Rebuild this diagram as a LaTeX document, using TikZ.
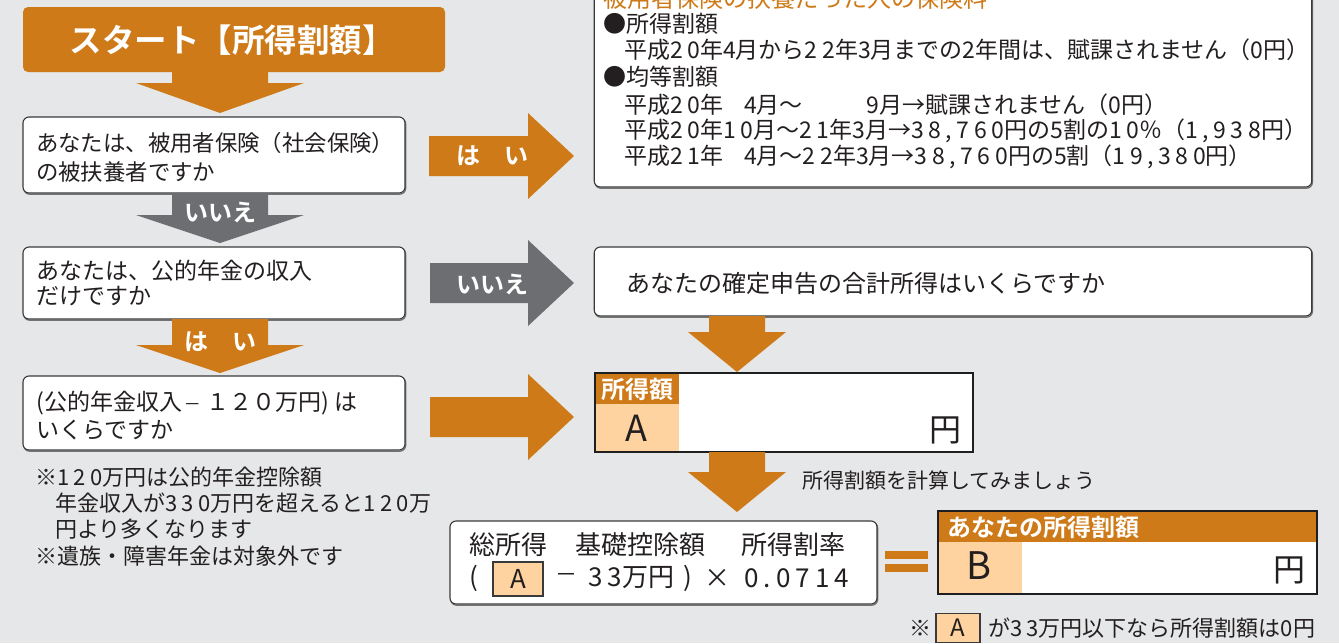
\documentclass[tikz,border=0pt]{standalone}
\usepackage{fontspec}
\setmainfont{Noto Sans CJK JP}[BoldFont={Noto Sans CJK JP Bold}]
\newcommand\nm[1]{{\addfontfeature{LetterSpace=20}#1}}
\definecolor{bg}{HTML}{E6E7E8}
\definecolor{org}{HTML}{CE7A18}
\definecolor{peach}{HTML}{FFD39F}
\definecolor{gry}{HTML}{6D6E71}
\definecolor{bord}{HTML}{3A3A3A}
\definecolor{txt}{HTML}{231F20}
% down block arrow: colour, cx, ytop, yneck, ytip, shaft half, head half
\newcommand\DArr[7]{\fill[#1] (#2-#6,#3) -- (#2+#6,#3) -- (#2+#6,#4) -- (#2+#7,#4) -- (#2,#5) -- (#2-#7,#4) -- (#2-#6,#4) -- cycle;}
% right block arrow: colour, cy, xleft, xneck, xtip, shaft half, head half
\newcommand\RArr[7]{\fill[#1] (#3,#2-#6) -- (#3,#2+#6) -- (#4,#2+#6) -- (#4,#2+#7) -- (#5,#2) -- (#4,#2-#7) -- (#4,#2-#6) -- cycle;}
\begin{document}
\begin{tikzpicture}[x=1pt,y=-1pt,
  every node/.style={inner sep=0pt, outer sep=0pt, text=txt},
  t21/.style={anchor=west, font={\fontsize{21}{25}\selectfont}},
  t22/.style={anchor=west, font={\fontsize{22}{26}\selectfont}},
  t23/.style={anchor=west, font={\fontsize{23}{27}\selectfont}},
  t24/.style={anchor=west, font={\fontsize{24}{28}\selectfont}},
  t26/.style={font={\fontsize{26}{30}\selectfont}},
  wb/.style={text=white, font={\bfseries\fontsize{24}{28}\selectfont}},
  qbox/.style={draw=bord, line width=1.1pt, fill=white, rounded corners=6pt,
    preaction={draw=black!55, line width=1.3pt, transform canvas={xshift=0.7pt, yshift=-1.2pt}}},
  rbox/.style={fill=white},
  rborder/.style={draw=black!88, line width=2.4pt},
  abox/.style={draw=bord, line width=1.3pt, fill=peach},
]
\useasboundingbox (0,0) rectangle (1339,643);
\fill[bg] (0,0) rectangle (1339,643);

% ---- start
\node[fill=org, rounded corners=5pt, minimum width=422, minimum height=65] (start) at (234,39.5) {};
\node[text=white, font={\bfseries\fontsize{32.5}{36}\selectfont}] (startT) at (232,40) {スタート【所得割額】};

% ---- left question boxes
\node[qbox, minimum width=382, minimum height=76] (q1) at (214,155) {};
\node[anchor=west, font={\fontsize{22.4}{26}\selectfont}] (q1a) at (36,143) {あなたは、被用者保険（社会保険）};
\node[anchor=west, font={\fontsize{22.4}{26}\selectfont}] (q1b) at (36,172) {の被扶養者ですか};

\node[qbox, minimum width=382, minimum height=72] (q2) at (214,283) {};
\node[t23] (q2a) at (36,271) {あなたは、公的年金の収入};
\node[t23] (q2b) at (36,296) {だけですか};

\node[qbox, minimum width=382, minimum height=74] (q3) at (214,413) {};
\node[t23] (q3a) at (36,403) {(\hspace{1pt}公的年金収入\hspace{1pt}{\fontsize{17}{20}\selectfont －}\hspace{6pt}１２０万円)\hspace{5pt}は};
\node[t23] (q3b) at (36,430) {いくらですか};

% ---- vertical arrows on the left
\DArr{org}{220}{72}{83}{113}{48}{84}
\DArr{gry}{220}{193}{215}{243}{48}{84}
\node[wb] (n1) at (220,212) {いいえ};
\DArr{org}{220}{319}{345}{373}{48}{84}
\node[wb] (y2) at (220,342) {は　い};

% ---- horizontal arrows
\RArr{org}{156}{429}{528}{574}{20}{43}
\node[wb] (y1) at (492,156) {は　い};
\RArr{gry}{283}{430}{528}{574}{20}{43}
\node[wb] (n2) at (492,284) {いいえ};
\RArr{org}{417}{430}{528}{574}{20}{43}

% ---- info box (top right)
\node[qbox, minimum width=717.5, minimum height=207] (info) at (953,83.5) {};
\node[anchor=base west, font={\fontsize{24}{28}\selectfont}, text=org] (i0) at (603,7) {被用者保険の扶養だった人の保険料};
\node[t23] (i1) at (603,24) {●所得割額};
\node[t23] (i2) at (624,50) {平成\nm{20}年\nm{4}月から\nm{22}年\nm{3}月までの\nm{2}年間は、賦課されません（\nm{0}円）};
\node[t23] (i3) at (603,77) {●均等割額};
\node[t23] (i4) at (624,105) {平成\nm{20}年\hspace{21pt}\nm{4}月～\hspace{64pt}\nm{9}月→賦課されません（\nm{0}円）};
\node[t23] (i5) at (624,131) {平成\nm{20}年\nm{10}月～\nm{21}年\nm{3}月→\nm{38,760}円の\nm{5}割の\nm{10}％（\nm{1,938}円）};
\node[t23] (i6) at (624,157) {平成\nm{21}年\hspace{21pt}\nm{4}月～\nm{22}年\nm{3}月→\nm{38,760}円の\nm{5}割（\nm{19,380}円）};

% ---- income question box
\node[qbox, minimum width=717.5, minimum height=69] (q4) at (953,281.5) {};
\node[t24] (q4a) at (626,283) {あなたの確定申告の合計所得はいくらですか};
\DArr{org}{737}{316}{332}{372}{28}{49}

% ---- result A box
\node[rbox, minimum width=378, minimum height=79] (ra) at (784,412.5) {};
\fill[org] (ra.north west) rectangle ++(84,31);
\fill[peach] ([yshift=-31pt]ra.north west) rectangle ++(84,48);
\draw[rborder] (ra.north west) rectangle (ra.south east);
\node[wb] (raL) at (637,389) {所得額};
\node[font={\fontsize{36}{40}\selectfont}] (raA) at (636,428) {A};
\node[font={\fontsize{32}{36}\selectfont}] (raY) at (945,430) {円};

\DArr{org}{737}{452}{472}{512}{28}{49}
\node[t21] (calc) at (802,480) {所得割額を計算してみましょう};

% ---- formula box
\node[qbox, minimum width=427, minimum height=83] (form) at (663.5,562.5) {};
\node[t26, anchor=west] (fa) at (469,545) {総所得};
\node[t26, anchor=west] (fb) at (575,545) {基礎控除額};
\node[t26, anchor=west] (fc) at (741,545) {所得割率};
\node[t26, anchor=west] (fp) at (469,578) {(};
\node[abox, minimum width=50, minimum height=34, font={\fontsize{26}{30}\selectfont}] (fA) at (518,579) {A};
\node[font={\fontsize{22}{26}\selectfont}] (fm) at (566,578) {－};
\node[t26, anchor=west] (f33) at (588,578) {\nm{33}万円};
\node[t26] (fcp) at (688,578) {)};
\node[t26] (fx) at (717,578) {×};
\node[t26, anchor=west] (f07) at (744,578) {\nm{0.0714}};

% ---- equals
\fill[org] (885,551) rectangle (928,559);
\fill[org] (885,564) rectangle (928,572);

% ---- result B box
\node[rbox, minimum width=379, minimum height=83] (rb) at (1127.5,552.5) {};
\fill[org] (rb.north west) rectangle ++(379,31);
\fill[peach] ([yshift=-31pt]rb.north west) rectangle ++(84,52);
\draw[rborder] (rb.north west) rectangle (rb.south east);
\node[wb, anchor=west] (rbL) at (947,527) {あなたの所得割額};
\node[font={\fontsize{38}{42}\selectfont}] (rbB) at (979,566) {B};
\node[font={\fontsize{32}{36}\selectfont}] (rbY) at (1289,570) {円};

% ---- footer note
\node[font={\fontsize{22}{26}\selectfont}] (fs) at (920,628) {※};
\node[abox, minimum width=44, minimum height=29, font={\fontsize{24}{28}\selectfont}] (fA2) at (958,628) {A};
\node[t22] (ft) at (988,628) {が\nm{33}万円以下なら所得割額は\nm{0}円};

% ---- left notes
\node[t22] (f1) at (35,477) {※\nm{120}万円は公的年金控除額};
\node[t22] (f2) at (55,503) {年金収入が\nm{330}万円を超えると\nm{120}万};
\node[t22] (f3) at (55,529) {円より多くなります};
\node[t22] (f4) at (35,556) {※遺族・障害年金は対象外です};
\end{tikzpicture}
\end{document}
